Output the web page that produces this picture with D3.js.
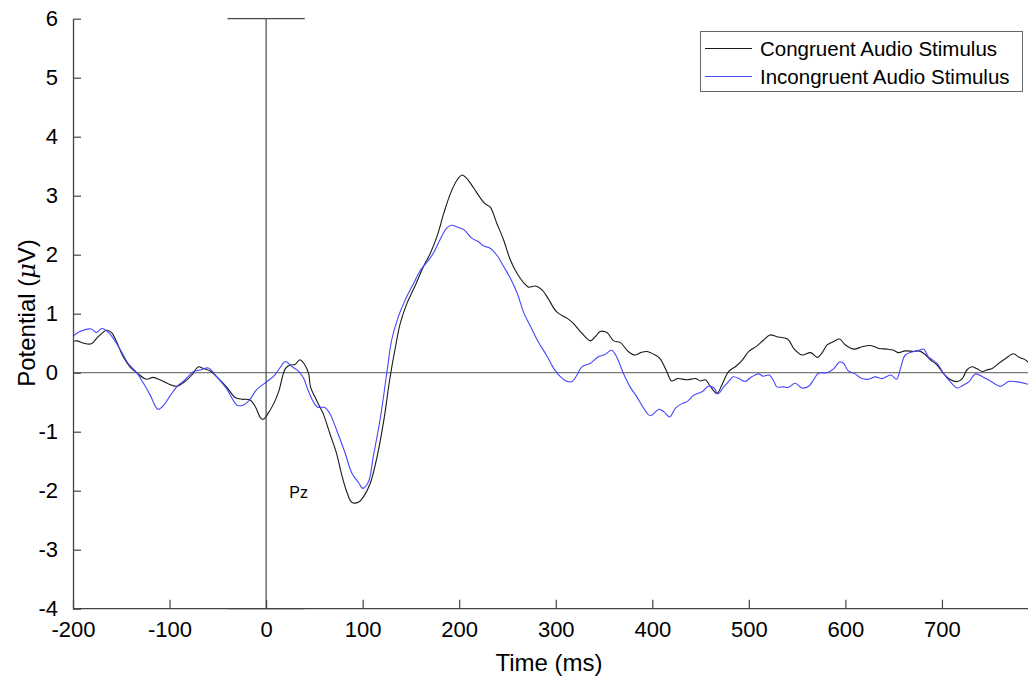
<!DOCTYPE html>
<html>
<head>
<meta charset="utf-8">
<script src="https://cdn.jsdelivr.net/npm/d3@7"></script>
<style>
  html, body { margin: 0; padding: 0; background: #fff; }
  svg { display: block; font-family: Arial, "Liberation Sans", sans-serif; }
</style>
</head>
<body>
<svg id="chart" width="1028" height="681"></svg>
<script>
// ---- data ----
const seriesNames = ["Congruent Audio Stimulus", "Incongruent Audio Stimulus"];
const xTicks = [-200, -100, 0, 100, 200, 300, 400, 500, 600, 700];
const yTicks = [-4, -3, -2, -1, 0, 1, 2, 3, 4, 5, 6];

const timesC = [-200,-196,-189,-181,-174,-165,-160,-155,-148,-141,-134,-124,-117,-110,-101,-93,-84,-77,-70,-65,-58,-51,-41,-32,-25,-17,-11,-6,-3,2,8,13,20,25,30,35,39,44,
  46,52,59,66,73,78,84,89,96,101,108,115,122,128,134,139,146,154,163,170,177,184,191,198,203,208,215,222,227,232,239,246,253,260,267,272,279,286,
  292,301,312,318,327,336,341,346,353,360,367,375,382,388,394,403,408,415,420,426,436,445,450,455,460,467,472,479,486,493,500,508,515,522,529,540,547,
  555,564,571,576,581,588,594,600,609,617,626,635,643,650,655,662,671,676,681,688,695,702,709,716,721,726,731,736,742,747,752,759,766,774,780,785,790];
const congruent = [0.53,0.54,0.50,0.49,0.61,0.72,0.68,0.53,0.27,0.10,0.00,-0.11,-0.08,-0.12,-0.19,-0.23,-0.15,-0.04,0.10,0.07,0.03,-0.07,-0.24,-0.42,-0.45,-0.46,-0.58,-0.76,-0.79,-0.69,-0.52,-0.32,0.07,0.13,0.14,0.22,0.16,-0.01,
  -0.24,-0.46,-0.69,-1.03,-1.37,-1.71,-2.04,-2.20,-2.19,-2.10,-1.87,-1.42,-0.80,-0.12,0.44,0.84,1.18,1.46,1.80,2.02,2.31,2.70,3.04,3.27,3.35,3.29,3.13,2.96,2.86,2.81,2.53,2.25,1.91,1.68,1.52,1.45,1.47,1.40,
  1.26,1.03,0.92,0.84,0.67,0.54,0.61,0.70,0.68,0.54,0.51,0.36,0.30,0.34,0.36,0.30,0.24,0.02,-0.14,-0.10,-0.12,-0.10,-0.14,-0.12,-0.23,-0.35,-0.21,0.02,0.10,0.21,0.36,0.45,0.55,0.64,0.61,0.57,0.40,
  0.30,0.34,0.26,0.34,0.47,0.53,0.57,0.47,0.40,0.44,0.46,0.41,0.40,0.38,0.34,0.37,0.36,0.37,0.33,0.22,0.13,-0.02,-0.12,-0.15,-0.10,0.05,0.10,0.07,0.02,0.05,0.07,0.16,0.24,0.32,0.26,0.23,0.17];

const timesI = [-200,-193,-181,-176,-170,-163,-157,-150,-143,-134,-127,-120,-112,-105,-99,-92,-84,-75,-67,-60,-51,-41,-30,-24,-17,-10,1,9,15,20,27,34,39,44,
  53,61,66,73,82,89,96,100,106,111,118,125,130,137,144,153,160,167,173,180,187,192,198,205,213,220,225,232,239,246,253,260,267,274,282,
  291,298,305,312,317,322,327,336,344,351,358,363,370,377,384,391,398,407,412,418,424,431,436,443,452,458,464,468,474,479,484,491,496,503,510,515,521,526,529,536,541,548,
  555,562,567,572,581,588,594,598,603,610,617,624,631,638,647,653,657,662,671,676,681,686,695,702,709,716,721,728,735,742,750,761,769,780,790];
const incongruent = [0.62,0.70,0.74,0.68,0.75,0.68,0.55,0.36,0.16,0.00,-0.18,-0.38,-0.62,-0.53,-0.38,-0.23,-0.12,0.02,0.05,0.08,-0.07,-0.27,-0.55,-0.55,-0.46,-0.29,-0.15,-0.04,0.10,0.19,0.10,0.02,-0.10,-0.32,
  -0.58,-0.59,-0.69,-0.97,-1.37,-1.71,-1.87,-1.96,-1.85,-1.42,-0.80,-0.01,0.55,0.95,1.23,1.52,1.74,1.88,2.02,2.25,2.45,2.50,2.47,2.42,2.28,2.22,2.15,2.11,1.99,1.80,1.60,1.35,1.01,0.78,0.52,
  0.28,0.07,-0.07,-0.15,-0.15,-0.04,0.10,0.16,0.27,0.31,0.38,0.27,-0.01,-0.24,-0.41,-0.60,-0.73,-0.62,-0.66,-0.75,-0.60,-0.52,-0.49,-0.38,-0.32,-0.23,-0.26,-0.36,-0.24,-0.15,-0.07,-0.11,-0.15,-0.07,-0.02,-0.06,-0.04,-0.15,-0.24,-0.24,-0.25,-0.18,
  -0.26,-0.23,-0.12,-0.01,0.00,0.07,0.18,0.16,0.03,-0.02,-0.10,-0.11,-0.07,-0.10,-0.04,-0.11,0.07,0.30,0.36,0.38,0.40,0.27,0.16,-0.02,-0.16,-0.26,-0.22,-0.15,-0.02,-0.07,-0.14,-0.23,-0.15,-0.16,-0.20];

const seriesColors = ["#1a1a1a", "#4646ff"];

// ---- layout ----
const svg = d3.select("#chart");
const x = d3.scaleLinear().domain([-200, 800]).range([73, 1038.5]);
const y = d3.scaleLinear().domain([-4, 6]).range([608.7, 18.7]);

const g = svg.append("g");

// zero horizontal line
g.append("line")
  .attr("x1", x(-200)).attr("x2", 1028)
  .attr("y1", y(0)).attr("y2", y(0))
  .attr("stroke", "#7a7a7a").attr("stroke-width", 1.3);

// stimulus onset marker
const marker = [[[-40, 6], [40, 6]], [[0, 6], [0, -4]], [[-40, -4], [40, -4]]];
marker.forEach(seg => {
  g.append("line")
    .attr("x1", x(seg[0][0])).attr("y1", y(seg[0][1]))
    .attr("x2", x(seg[1][0])).attr("y2", y(seg[1][1]))
    .attr("stroke", "#4a4a4a").attr("stroke-width", 1.2);
});

// axes
const fmt = d => String(d);
const xAxis = d3.axisBottom(x).tickValues(xTicks).tickFormat(fmt).tickSizeInner(-9).tickSizeOuter(0).tickPadding(13);
const yAxis = d3.axisLeft(y).tickValues(yTicks).tickFormat(fmt).tickSizeInner(-8).tickSizeOuter(0).tickPadding(15);

const gx = svg.append("g").attr("transform", `translate(0,${y(-4)})`).call(xAxis);
const gy = svg.append("g").attr("transform", `translate(${x(-200)},0)`).call(yAxis);
[gx, gy].forEach(a => {
  a.select(".domain").attr("stroke", "#444").attr("stroke-width", 1.3);
  a.selectAll(".tick line").attr("stroke", "#444").attr("stroke-width", 1.2);
  a.selectAll(".tick text").attr("fill", "#000").style("font-size", "22px")
    .style("font-family", "Arial, 'Liberation Sans', sans-serif");
});
gx.select(".domain").attr("d", `M${x(-200)},0H1028`);

// lines
const line = d3.line().x(d => x(d[0])).y(d => y(d[1])).curve(d3.curveCatmullRom.alpha(0.5));
const dataC = timesC.map((t, i) => [t, congruent[i]]);
const dataI = timesI.map((t, i) => [t, incongruent[i]]);

g.append("path").datum(dataC).attr("d", line)
  .attr("fill", "none").attr("stroke", seriesColors[0]).attr("stroke-width", 1.1);
g.append("path").datum(dataI).attr("d", line)
  .attr("fill", "none").attr("stroke", seriesColors[1]).attr("stroke-width", 1.1);

// Pz annotation
svg.append("text").attr("x", x(24)).attr("y", 498)
  .style("font-size", "16px").attr("fill", "#000").text("Pz");

// axis titles
svg.append("text").attr("x", 549).attr("y", 671).attr("text-anchor", "middle")
  .style("font-size", "24px").attr("fill", "#000").text("Time (ms)");

const yl = svg.append("text").attr("transform", "translate(35,313) rotate(-90)")
  .attr("text-anchor", "middle").style("font-size", "24px").attr("fill", "#000");
yl.append("tspan").text("Potential (");
yl.append("tspan").style("font-style", "italic").style("font-family", "'DejaVu Serif', serif").text("μ");
yl.append("tspan").text("V)");

// legend
const lg = svg.append("g");
lg.append("rect").attr("x", 700.5).attr("y", 31.5).attr("width", 322).attr("height", 60)
  .attr("fill", "#fff").attr("stroke", "#666").attr("stroke-width", 1);
seriesNames.forEach((name, i) => {
  const yy = 48.5 + i * 28;
  lg.append("line").attr("x1", 705).attr("x2", 752).attr("y1", yy).attr("y2", yy)
    .attr("stroke", seriesColors[i]).attr("stroke-width", 1.1);
  lg.append("text").attr("x", 760).attr("y", yy + 7.5)
    .style("font-size", "20.5px").attr("fill", "#000").text(name);
});
</script>
</body>
</html>
